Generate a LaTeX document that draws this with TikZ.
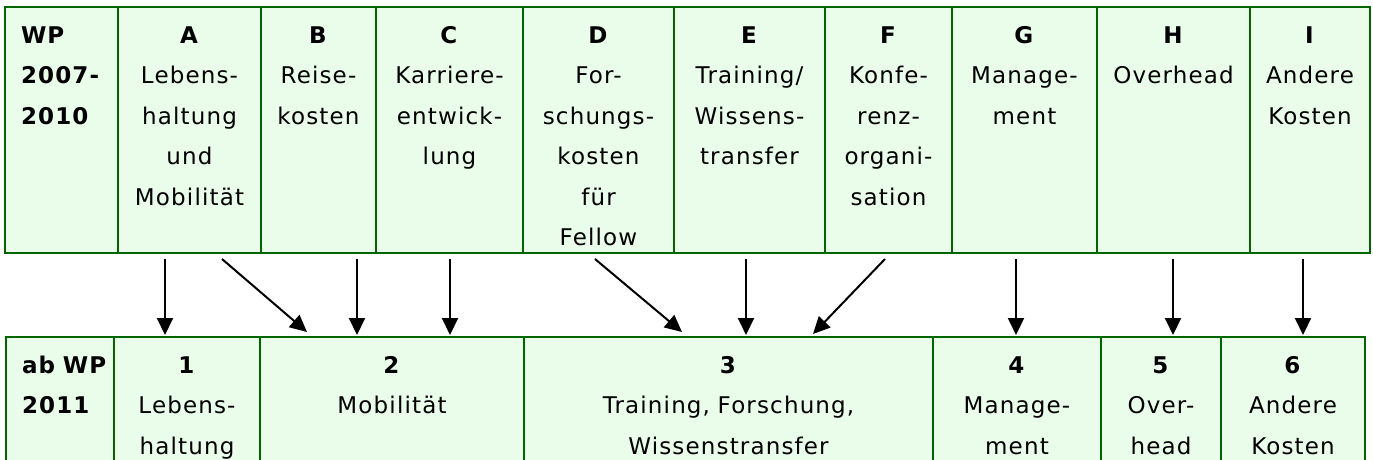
\documentclass[tikz,border=0pt]{standalone}
\usepackage{fontspec}
\setmainfont{DejaVu Sans}[LetterSpace=5]
\usetikzlibrary{positioning, arrows.meta}
\definecolor{cellgreen}{RGB}{234,252,234}
\definecolor{linegreen}{RGB}{0,102,0}

\begin{document}
\begin{tikzpicture}[x=1pt, y=1pt, node distance=0pt,
cell/.style={rectangle, draw=linegreen, fill=cellgreen, line width=2pt, outer sep=0pt, inner xsep=0pt, inner ysep=16pt, text height=20pt, align=center, font=\fontsize{23pt}{40.5pt}\selectfont, anchor=north west},
oldcell/.style={cell, text depth=194pt},
newcell/.style={cell, text depth=111pt},
headcell/.style={align=left, inner xsep=16pt, font=\fontsize{23pt}{40.5pt}\selectfont\bfseries},
maparrow/.style={-{Triangle[width=16pt, length=17pt]}, line width=2pt},
]
    \useasboundingbox (0,0) rectangle (1373,-459);
    \clip (0,0) rectangle (1373,-459);

    \node[oldcell, headcell, text width=81pt]   (oldWP)   at (5,-7)         {WP\\2007-\\2010};
    \node[oldcell, text width=143pt]   (oldA)    [right=of oldWP]  {\textbf{A}\\Lebens-\\haltung\\und\\Mobilität};
    \node[oldcell, text width=115pt]   (oldB)    [right=of oldA]   {\textbf{B}\\Reise-\\kosten};
    \node[oldcell, text width=147pt]   (oldC)    [right=of oldB]   {\textbf{C}\\Karriere-\\entwick-\\lung};
    \node[oldcell, text width=151pt]   (oldD)    [right=of oldC]   {\textbf{D}\\For-\\schungs-\\kosten\\für\\Fellow};
    \node[oldcell, text width=151pt]   (oldE)    [right=of oldD]   {\textbf{E}\\Training/\\Wissens-\\transfer};
    \node[oldcell, text width=127pt]   (oldF)    [right=of oldE]   {\textbf{F}\\Konfe-\\renz-\\organi-\\sation};
    \node[oldcell, text width=145pt]   (oldG)    [right=of oldF]   {\textbf{G}\\Manage-\\ment};
    \node[oldcell, text width=153pt]   (oldH)    [right=of oldG]   {\textbf{H}\\Overhead};
    \node[oldcell, text width=120pt]   (oldI)    [right=of oldH]   {\textbf{I}\\Andere\\Kosten};

    \node[newcell, headcell, text width=76pt]   (newWP)   at (6,-337)       {ab~WP\\2011};
    \node[newcell, text width=146pt]   (new1)    [right=of newWP]  {\textbf{1}\\Lebens-\\haltung};
    \node[newcell, text width=264pt]   (new2)    [right=of new1]   {\textbf{2}\\Mobilität};
    \node[newcell, text width=409pt]   (new3)    [right=of new2]   {\textbf{3}\\Training, Forschung,\\Wissenstransfer};
    \node[newcell, text width=168pt]   (new4)    [right=of new3]   {\textbf{4}\\Manage-\\ment};
    \node[newcell, text width=120pt]   (new5)    [right=of new4]   {\textbf{5}\\Over-\\head};
    \node[newcell, text width=144pt]   (new6)    [right=of new5]   {\textbf{6}\\Andere\\Kosten};

    \draw[maparrow] ([xshift=-24.5pt, yshift=-6pt]oldA.south) -- ([xshift=-22pt, yshift=2pt]new1.north);
    \draw[maparrow] ([xshift=32.5pt, yshift=-6pt]oldA.south)  -- ([xshift=-85pt, yshift=5pt]new2.north);
    \draw[maparrow] ([xshift=38.5pt, yshift=-6pt]oldB.south)  -- ([xshift=-35pt, yshift=2pt]new2.north);
    \draw[maparrow] ([xshift=0.5pt, yshift=-6pt]oldC.south)   -- ([xshift=58pt, yshift=2pt]new2.north);
    \draw[maparrow] ([xshift=-3.5pt, yshift=-6pt]oldD.south)  -- ([xshift=-46.5pt, yshift=5pt]new3.north);
    \draw[maparrow] ([xshift=-3.5pt, yshift=-6pt]oldE.south)  -- ([xshift=17.5pt, yshift=2pt]new3.north);
    \draw[maparrow] ([xshift=-3.5pt, yshift=-6pt]oldF.south)  -- ([xshift=84.5pt, yshift=3pt]new3.north);
    \draw[maparrow] ([xshift=-8.5pt, yshift=-6pt]oldG.south)  -- ([xshift=-1pt, yshift=2pt]new4.north);
    \draw[maparrow] ([xshift=-0.5pt, yshift=-6pt]oldH.south)  -- ([xshift=12pt, yshift=2pt]new5.north);
    \draw[maparrow] ([xshift=-7pt, yshift=-6pt]oldI.south)    -- ([xshift=10pt, yshift=2pt]new6.north);
\end{tikzpicture}
\end{document}
